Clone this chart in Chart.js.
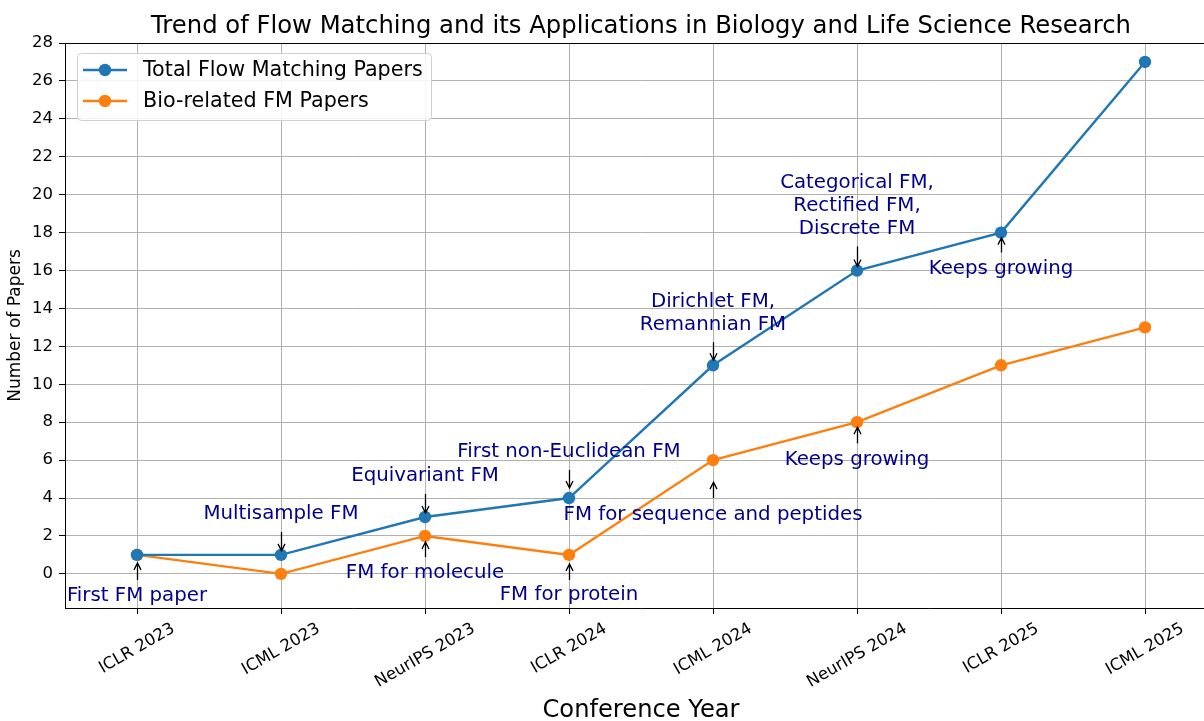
<!DOCTYPE html>
<html>
<head>
<meta charset="utf-8">
<script src="https://cdn.jsdelivr.net/npm/chart.js@4/dist/chart.umd.min.js"></script>
<style>
html,body{margin:0;padding:0;overflow:hidden;background:#ffffff;width:1204px;height:721px}
#wrap{width:1217px;height:721px;position:relative}
canvas{display:block}
</style>
</head>
<body>
<div id="wrap"><canvas id="c" width="1217" height="721"></canvas></div>
<script>
// ---- data ----
const categories = ['ICLR 2023','ICML 2023','NeurIPS 2023','ICLR 2024','ICML 2024','NeurIPS 2024','ICLR 2025','ICML 2025'];
const totalPapers = [1, 1, 3, 4, 11, 16, 18, 27];
const bioPapers = [1, 0, 2, 1, 6, 8, 11, 13];
const seriesNames = ['Total Flow Matching Papers', 'Bio-related FM Papers'];
const yTickValues = [0, 2, 4, 6, 8, 10, 12, 14, 16, 18, 20, 22, 24, 26, 28];
const chartTitle = 'Trend of Flow Matching and its Applications in Biology and Life Science Research';
const xAxisTitle = 'Conference Year';
const yAxisTitle = 'Number of Papers';

const annotationLabels = [
  'First FM paper', 'Multisample FM', 'Equivariant FM', 'FM for molecule',
  'First non-Euclidean FM', 'FM for protein', 'Dirichlet FM,\nRemannian FM',
  'FM for sequence and peptides', 'Categorical FM,\nRectified FM,\nDiscrete FM',
  'Keeps growing', 'Keeps growing'
];
const annotationCategory = [0, 1, 2, 2, 3, 3, 4, 4, 5, 5, 6];
const annotationSeries   = [1, 0, 0, 1, 0, 1, 0, 1, 0, 1, 0];

// ---- styles (pixel offsets relative to the annotated point) ----
const annotationLayout = [
  {text: 41, tail: 25, tip: 8},
  {text: -41, tail: -23, tip: -4},
  {text: -41, tail: -23, tip: -4},
  {text: 37, tail: 21, tip: 6},
  {text: -46, tail: -28, tip: -10},
  {text: 40, tail: 25, tip: 9},
  {text: -63, tail: -23, tip: -5},
  {text: 55, tail: 38, tip: 22},
  {text: -88, tail: -24, tip: -4},
  {text: 38, tail: 21, tip: 5},
  {text: 36, tail: 20, tip: 5}
];
const FONT = "'DejaVu Sans', 'Liberation Sans', sans-serif";
const BLUE = '#1f77b4';
const ORANGE = '#ff7f0e';
const ANNOT = '#00008b';

function drawArrow(ctx, x, y1, y2) {
  ctx.beginPath();
  ctx.moveTo(x, y1);
  ctx.lineTo(x, y2);
  const dir = y2 > y1 ? 1 : -1;
  ctx.moveTo(x - 3.5, y2 - dir * 7);
  ctx.lineTo(x, y2);
  ctx.lineTo(x + 3.5, y2 - dir * 7);
  ctx.stroke();
}

const overlay = {
  id: 'overlay',
  afterDatasetsDraw(chart) {
    const ctx = chart.ctx;
    const xs = chart.scales.x, ys = chart.scales.y;
    const series = [totalPapers, bioPapers];
    ctx.save();
    ctx.font = `19.8px ${FONT}`;
    ctx.textAlign = 'center';
    ctx.textBaseline = 'middle';
    annotationLabels.forEach((label, i) => {
      const ci = annotationCategory[i];
      const v = series[annotationSeries[i]][ci];
      const px = xs.getPixelForValue(ci);
      const py = ys.getPixelForValue(v);
      const L = annotationLayout[i];
      ctx.fillStyle = ANNOT;
      label.split('\n').forEach((line, k) => {
        ctx.fillText(line, px, py + L.text + k * 23);
      });
      ctx.strokeStyle = '#000000';
      ctx.lineWidth = 1.3;
      drawArrow(ctx, Math.round(px) + 0.5, py + L.tail, py + L.tip);
    });
    ctx.restore();
  },
  afterDraw(chart) {
    const ctx = chart.ctx;
    const ca = chart.chartArea;
    const xs = chart.scales.x;
    ctx.save();
    // top spine
    ctx.strokeStyle = '#000000';
    ctx.lineWidth = 1;
    ctx.beginPath();
    ctx.moveTo(ca.left, Math.round(ca.top) + 0.5);
    ctx.lineTo(ca.right, Math.round(ca.top) + 0.5);
    ctx.stroke();
    // title
    ctx.fillStyle = '#000000';
    ctx.font = `24.3px ${FONT}`;
    ctx.textAlign = 'center';
    ctx.textBaseline = 'alphabetic';
    ctx.fillText(chartTitle, (ca.left + ca.right) / 2, 33);
    // rotated x tick labels, centred on ticks
    ctx.font = `16.5px ${FONT}`;
    categories.forEach((lab, i) => {
      const x = xs.getPixelForValue(i);
      const w = ctx.measureText(lab).width;
      const h = 19.5;
      const bbH = w * 0.5 + h * 0.866;
      const cy = ca.bottom + 6 + 5 + bbH / 2;
      ctx.save();
      ctx.translate(x, cy);
      ctx.rotate(-Math.PI / 6);
      ctx.textAlign = 'center';
      ctx.textBaseline = 'middle';
      ctx.fillText(lab, 0, 0);
      ctx.restore();
    });
    // legend
    const bx = ca.left + 12, by = ca.top + 10, bw = 354, bh = 67;
    ctx.beginPath();
    if (ctx.roundRect) ctx.roundRect(bx + 0.5, by + 0.5, bw, bh, 4); else ctx.rect(bx + 0.5, by + 0.5, bw, bh);
    ctx.fillStyle = 'rgba(255,255,255,0.85)';
    ctx.fill();
    ctx.strokeStyle = '#cfcfcf';
    ctx.lineWidth = 1;
    ctx.stroke();
    chart.data.datasets.forEach((ds, k) => {
      const ry = by + 17 + k * 31;
      ctx.strokeStyle = ds.borderColor;
      ctx.lineWidth = 2.3;
      ctx.beginPath();
      ctx.moveTo(bx + 6, ry);
      ctx.lineTo(bx + 50, ry);
      ctx.stroke();
      ctx.fillStyle = ds.borderColor;
      ctx.beginPath();
      ctx.arc(bx + 28, ry, 6.2, 0, Math.PI * 2);
      ctx.fill();
      ctx.fillStyle = '#000000';
      ctx.font = `20.7px ${FONT}`;
      ctx.textAlign = 'left';
      ctx.textBaseline = 'middle';
      ctx.fillText(ds.label, bx + 66, ry + 1);
    });
    ctx.restore();
  }
};

new Chart(document.getElementById('c'), {
  type: 'line',
  data: {
    labels: categories,
    datasets: [
      {label: seriesNames[0], data: totalPapers, borderColor: BLUE, backgroundColor: BLUE,
       pointBackgroundColor: BLUE, pointBorderWidth: 0, pointRadius: 6.2, borderWidth: 2.4, tension: 0, clip: false},
      {label: seriesNames[1], data: bioPapers, borderColor: ORANGE, backgroundColor: ORANGE,
       pointBackgroundColor: ORANGE, pointBorderWidth: 0, pointRadius: 6.2, borderWidth: 2.4, tension: 0, clip: false}
    ]
  },
  options: {
    responsive: false,
    animation: false,
    devicePixelRatio: 1,
    layout: {autoPadding: false, padding: {top: 43, left: 0, right: 0, bottom: 0}},
    plugins: {legend: {display: false}, title: {display: false}, tooltip: {enabled: false}},
    scales: {
      x: {
        type: 'category',
        offset: true,
        grid: {offset: false, color: '#b0b0b0', lineWidth: 1, tickLength: 6, tickColor: '#000000', drawTicks: true},
        border: {display: true, color: '#000000', width: 1},
        ticks: {display: false},
        title: {display: true, text: xAxisTitle, color: '#000000',
                font: {family: FONT, size: 24.2, lineHeight: '21px'}, padding: {top: 86, bottom: 0}}
      },
      y: {
        type: 'linear',
        min: -1.8,
        max: 28,
        afterBuildTicks: (scale) => { scale.ticks = yTickValues.map(v => ({value: v})); },
        afterFit: (scale) => { scale.width = 65; },
        grid: {color: '#b0b0b0', lineWidth: 1, tickLength: 6, tickColor: '#000000'},
        border: {display: true, color: '#000000', width: 1},
        ticks: {color: '#000000', font: {family: FONT, size: 16.5}, padding: 6},
        title: {display: true, text: yAxisTitle, color: '#000000',
                font: {family: FONT, size: 17, lineHeight: 1.2}, padding: {top: 5, bottom: 0}}
      }
    }
  },
  plugins: [overlay]
});
</script>
</body>
</html>
